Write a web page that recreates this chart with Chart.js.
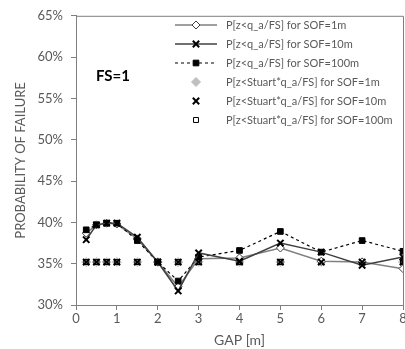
<!DOCTYPE html>
<html>
<head>
<meta charset="utf-8">
<script src="https://cdn.jsdelivr.net/npm/chart.js@4.4.1/dist/chart.umd.min.js"></script>
<style>
  html, body { margin: 0; padding: 0; background: #fff; overflow: hidden; }
  #chart { display: block; }
</style>
</head>
<body>
<canvas id="chart" width="412" height="349"></canvas>
<script>
// gap [m] and probability of failure [%]
const gap = [0.25, 0.5, 0.75, 1, 1.5, 2, 2.5, 3, 4, 5, 6, 7, 8];
const pSof1 = [38.7, 39.7, 39.9, 39.8, 38.0, 35.2, 32.2, 35.6, 35.7, 36.9, 35.3, 35.2, 34.4];
const pSof10 = [37.9, 39.7, 39.9, 39.9, 38.2, 35.2, 31.7, 36.3, 35.3, 37.5, 36.4, 34.8, 35.8];
const pSof100 = [39.1, 39.7, 39.9, 39.9, 37.8, 35.2, 32.9, 35.8, 36.6, 38.9, 36.4, 37.8, 36.5];
const stuartSof1 = [35.2, 35.2, 35.2, 35.2, 35.2, 35.2, 35.2, 35.2, 35.2, 35.2, 35.2, 35.2, 35.2];
const stuartSof10 = [35.2, 35.2, 35.2, 35.2, 35.2, 35.2, 35.2, 35.2, 35.2, 35.2, 35.2, 35.2, 35.2];
const stuartSof100 = [35.2, 35.2, 35.2, 35.2, 35.2, 35.2, 35.2, 35.2, 35.2, 35.2, 35.2, 35.2, 35.2];

const seriesLabels = [
  'P[z<q_a/FS] for SOF=1m',
  'P[z<q_a/FS] for SOF=10m',
  'P[z<q_a/FS] for SOF=100m',
  'P[z<Stuart*q_a/FS] for SOF=1m',
  'P[z<Stuart*q_a/FS] for SOF=10m',
  'P[z<Stuart*q_a/FS] for SOF=100m',
];
const yMin = 30, yMax = 65, yStep = 5;
const xMin = 0, xMax = 8, xStep = 1;
const annotation = 'FS=1';

const pts = (ys) => gap.map((g, i) => ({ x: g, y: ys[i] }));
const axisGrey = '#7f7f7f';
const textGrey = '#595959';

// small own marker painter for the legend rows
function drawMarker(ctx, ds, x, y) {
  const r = ds.pointRadius;
  ctx.save();
  ctx.fillStyle = ds.pointBackgroundColor;
  ctx.strokeStyle = ds.pointBorderColor;
  ctx.lineWidth = ds.pointBorderWidth;
  ctx.setLineDash([]);
  ctx.beginPath();
  if (ds.pointStyle === 'rectRot') {
    ctx.moveTo(x, y - r); ctx.lineTo(x + r, y); ctx.lineTo(x, y + r); ctx.lineTo(x - r, y);
    ctx.closePath(); ctx.fill(); ctx.stroke();
  } else if (ds.pointStyle === 'crossRot') {
    const d = r * Math.SQRT1_2;
    ctx.moveTo(x - d, y - d); ctx.lineTo(x + d, y + d);
    ctx.moveTo(x + d, y - d); ctx.lineTo(x - d, y + d);
    ctx.stroke();
  } else {
    const s = r * Math.SQRT1_2;
    ctx.rect(x - s, y - s, 2 * s, 2 * s); ctx.fill(); ctx.stroke();
  }
  ctx.restore();
}

const extras = {
  id: 'extras',
  afterDraw(chart) {
    const { ctx, chartArea: a } = chart;
    ctx.save();
    // top and right frame
    ctx.strokeStyle = axisGrey;
    ctx.lineWidth = 1;
    ctx.beginPath();
    ctx.moveTo(a.left, a.top + 0.5); ctx.lineTo(a.right + 0.5, a.top + 0.5); ctx.lineTo(a.right + 0.5, a.bottom);
    ctx.stroke();

    ctx.fillStyle = '#000';
    ctx.font = 'bold 15px Lato';
    ctx.textBaseline = 'middle';
    ctx.fillText(annotation, 96, 76);

    // legend
    ctx.font = '11px Lato';
    chart.data.datasets.forEach((ds, i) => {
      const y = 25 + i * 19;
      if (ds.showLine !== false) {
        ctx.save();
        ctx.strokeStyle = ds.borderColor;
        ctx.lineWidth = ds.borderWidth;
        ctx.setLineDash(ds.borderDash || []);
        ctx.beginPath();
        ctx.moveTo(175, y); ctx.lineTo(217, y);
        ctx.stroke();
        ctx.restore();
      }
      drawMarker(ctx, ds, 196, y);
      ctx.fillStyle = textGrey;
      ctx.fillText(ds.label, 226, y);
    });
    ctx.restore();
  },
};

// lower "order" is painted on top
new Chart(document.getElementById('chart'), {
  type: 'scatter',
  data: {
    datasets: [
      { label: seriesLabels[0], data: pts(pSof1), showLine: true, borderColor: '#808080', borderWidth: 1.5, order: 4,
        pointStyle: 'rectRot', pointRadius: 4, pointBackgroundColor: '#fff', pointBorderColor: '#404040', pointBorderWidth: 1 },
      { label: seriesLabels[1], data: pts(pSof10), showLine: true, borderColor: '#404040', borderWidth: 1.5, order: 2,
        pointStyle: 'crossRot', pointRadius: 4.5, pointBackgroundColor: '#000', pointBorderColor: '#000', pointBorderWidth: 2 },
      { label: seriesLabels[2], data: pts(pSof100), showLine: true, borderColor: '#000', borderWidth: 1.2, borderDash: [3, 3], order: 3,
        pointStyle: 'rect', pointRadius: 4, pointBackgroundColor: '#000', pointBorderColor: '#000', pointBorderWidth: 1 },
      { label: seriesLabels[3], data: pts(stuartSof1), showLine: false, order: 7,
        pointStyle: 'rectRot', pointRadius: 4.5, pointBackgroundColor: '#bfbfbf', pointBorderColor: '#bfbfbf', pointBorderWidth: 1 },
      { label: seriesLabels[4], data: pts(stuartSof10), showLine: false, order: 1,
        pointStyle: 'crossRot', pointRadius: 4.5, pointBackgroundColor: '#000', pointBorderColor: '#000', pointBorderWidth: 2 },
      { label: seriesLabels[5], data: pts(stuartSof100), showLine: false, order: 6,
        pointStyle: 'rect', pointRadius: 3.5, pointBackgroundColor: '#fff', pointBorderColor: '#000', pointBorderWidth: 1 },
    ],
  },
  options: {
    responsive: false,
    animation: false,
    layout: { padding: { top: 13, right: 9, left: 0, bottom: 0 } },
    plugins: { legend: { display: false }, tooltip: { enabled: false } },
    scales: {
      x: {
        type: 'linear', min: xMin, max: xMax,
        afterFit: (s) => { s.height = 44; },
        border: { color: axisGrey, width: 1 },
        grid: { drawOnChartArea: false, drawTicks: true, tickLength: 5, color: axisGrey },
        ticks: { stepSize: xStep, padding: 1, color: textGrey, font: { family: 'Lato', size: 13 } },
        title: { display: true, text: 'GAP [m]', color: textGrey, font: { family: 'Lato', size: 14 }, padding: { top: 0, bottom: 0 } },
      },
      y: {
        min: yMin, max: yMax,
        afterFit: (s) => { s.width = 76; },
        border: { color: axisGrey, width: 1 },
        grid: { drawOnChartArea: false, drawTicks: true, tickLength: 5, color: axisGrey },
        ticks: { stepSize: yStep, padding: 8, color: textGrey, font: { family: 'Lato', size: 13 }, callback: (v) => v + '%' },
        title: { display: true, text: 'PROBABILITY OF FAILURE', color: textGrey, font: { family: 'Lato', size: 13 }, padding: { top: 13, bottom: 0 } },
      },
    },
  },
  plugins: [extras],
});
</script>
</body>
</html>
